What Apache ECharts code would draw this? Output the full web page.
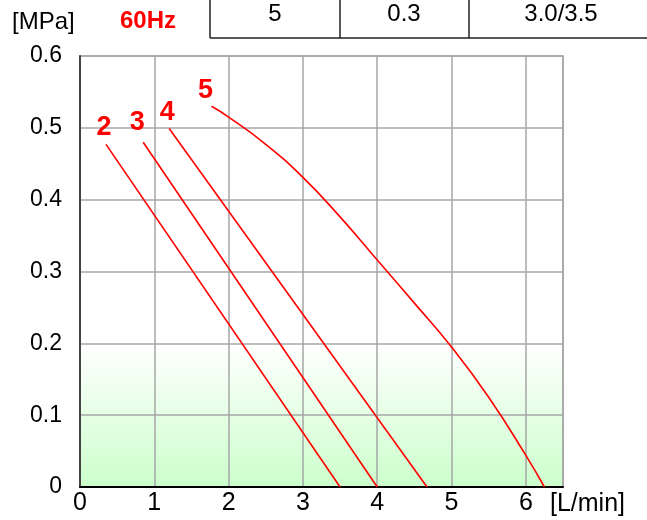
<!DOCTYPE html>
<html>
<head>
<meta charset="utf-8">
<script src="https://cdn.jsdelivr.net/npm/echarts@6/dist/echarts.min.js"></script>
<style>html,body{margin:0;padding:0;background:#fff}</style>
</head>
<body>
<div id="chart" style="width:647px;height:520px"></div>
<script>
// pressure [MPa] against flow [L/min], one curve per model
const curveNames = ["2", "3", "4", "5"];
const flow2 = [0.35, 3.5];
const press2 = [0.477, 0];
const flow3 = [0.85, 4.0];
const press3 = [0.48, 0];
const flow4 = [1.2, 4.67];
const press4 = [0.499, 0];
const flow5 = [1.77, 2.0, 2.5, 3.0, 3.5, 4.0, 4.5, 5.0, 5.5, 6.0, 6.25];
const press5 = [0.53, 0.515, 0.477, 0.431, 0.376, 0.316, 0.256, 0.195, 0.125, 0.044, 0];
const tableCells = ["5", "0.3", "3.0/3.5"];

const FONT = "Liberation Sans, Arial, sans-serif";
const RED = "#ff0000";
const GRIDGRAY = "#a6a6a6";

const curves = [
  { name: curveNames[0], xs: flow2, ys: press2, offset: [-2, 2], smooth: false },
  { name: curveNames[1], xs: flow3, ys: press3, offset: [-6, -1], smooth: false },
  { name: curveNames[2], xs: flow4, ys: press4, offset: [-2, 2], smooth: false },
  { name: curveNames[3], xs: flow5, ys: press5, offset: [-6, 3], smooth: 0.5 },
];

function toPoints(c) {
  return c.xs.map((x, i) => i === 0
    ? { value: [x, c.ys[i]], label: { show: true, formatter: c.name, offset: c.offset } }
    : [x, c.ys[i]]);
}

const chart = echarts.init(document.getElementById("chart"));

const series = curves.map(c => ({
  name: c.name,
  type: "line",
  z: 4,
  smooth: c.smooth,
  symbol: "circle",
  symbolSize: 0,
  showSymbol: true,
  silent: true,
  lineStyle: { color: RED, width: 1.6 },
  itemStyle: { color: RED },
  label: {
    show: false,
    position: "top",
    color: RED,
    fontWeight: "bold",
    fontSize: 27,
    fontFamily: FONT,
  },
  data: toPoints(c),
}));

// light green band at the bottom of the plot, kept under the grid lines
series.unshift({
  type: "line",
  data: [],
  z: 1,
  silent: true,
  markArea: {
    silent: true,
    itemStyle: {
      color: new echarts.graphic.LinearGradient(0, 0, 0, 1, [
        { offset: 0, color: "#ffffff" },
        { offset: 1, color: "#ccffcc" },
      ]),
    },
    data: [[{ xAxis: 0, yAxis: 0.2 }, { xAxis: 6.5, yAxis: 0 }]],
  },
});

const txt = (text, x, y, size, extra) => ({
  type: "text",
  z: 10,
  style: Object.assign({
    text: text, x: x, y: y, fill: "#000",
    fontSize: size, fontFamily: FONT, verticalAlign: "middle",
  }, extra || {}),
});
const rule = (x1, y1, x2, y2) => ({
  type: "line", z: 10,
  shape: { x1: x1, y1: y1, x2: x2, y2: y2 },
  style: { stroke: "#222", lineWidth: 1.5 },
});

chart.setOption({
  animation: false,
  grid: {
    left: 80, right: 84, top: 56, bottom: 33, z: 3,
    show: true, borderColor: GRIDGRAY, borderWidth: 1.5,
  },
  xAxis: {
    type: "value",
    z: 3,
    min: 0, max: 6.5, interval: 1,
    axisLine: { lineStyle: { color: "#000", width: 2 } },
    axisTick: { show: false },
    splitLine: { lineStyle: { color: GRIDGRAY, width: 1.5 } },
    axisLabel: {
      color: "#000", fontSize: 25, fontFamily: FONT, margin: 4,
      formatter: v => Number.isInteger(v) ? String(v) : "",
    },
  },
  yAxis: {
    type: "value",
    z: 3,
    min: 0, max: 0.6, interval: 0.1,
    axisLine: { show: true, lineStyle: { color: "#444", width: 2 } },
    axisTick: { show: false },
    splitLine: { lineStyle: { color: GRIDGRAY, width: 1.5 } },
    axisLabel: {
      color: "#000", fontSize: 23, fontFamily: FONT, margin: 18,
      formatter: v => String(+v.toFixed(1)),
    },
  },
  graphic: [
    txt("[MPa]", 12, 22, 24),
    txt("60Hz", 120, 21, 24, { fill: RED, fontWeight: "bold" }),
    rule(210, 0, 210, 38),
    rule(340, 0, 340, 38),
    rule(469, 0, 469, 38),
    rule(210, 38, 647, 38),
    txt(tableCells[0], 275, 14, 24, { align: "center" }),
    txt(tableCells[1], 404, 14, 24, { align: "center" }),
    txt(tableCells[2], 561, 14, 24, { align: "center" }),
    txt("[L/min]", 550, 504, 25),
  ],
  series: series,
});
</script>
</body>
</html>
